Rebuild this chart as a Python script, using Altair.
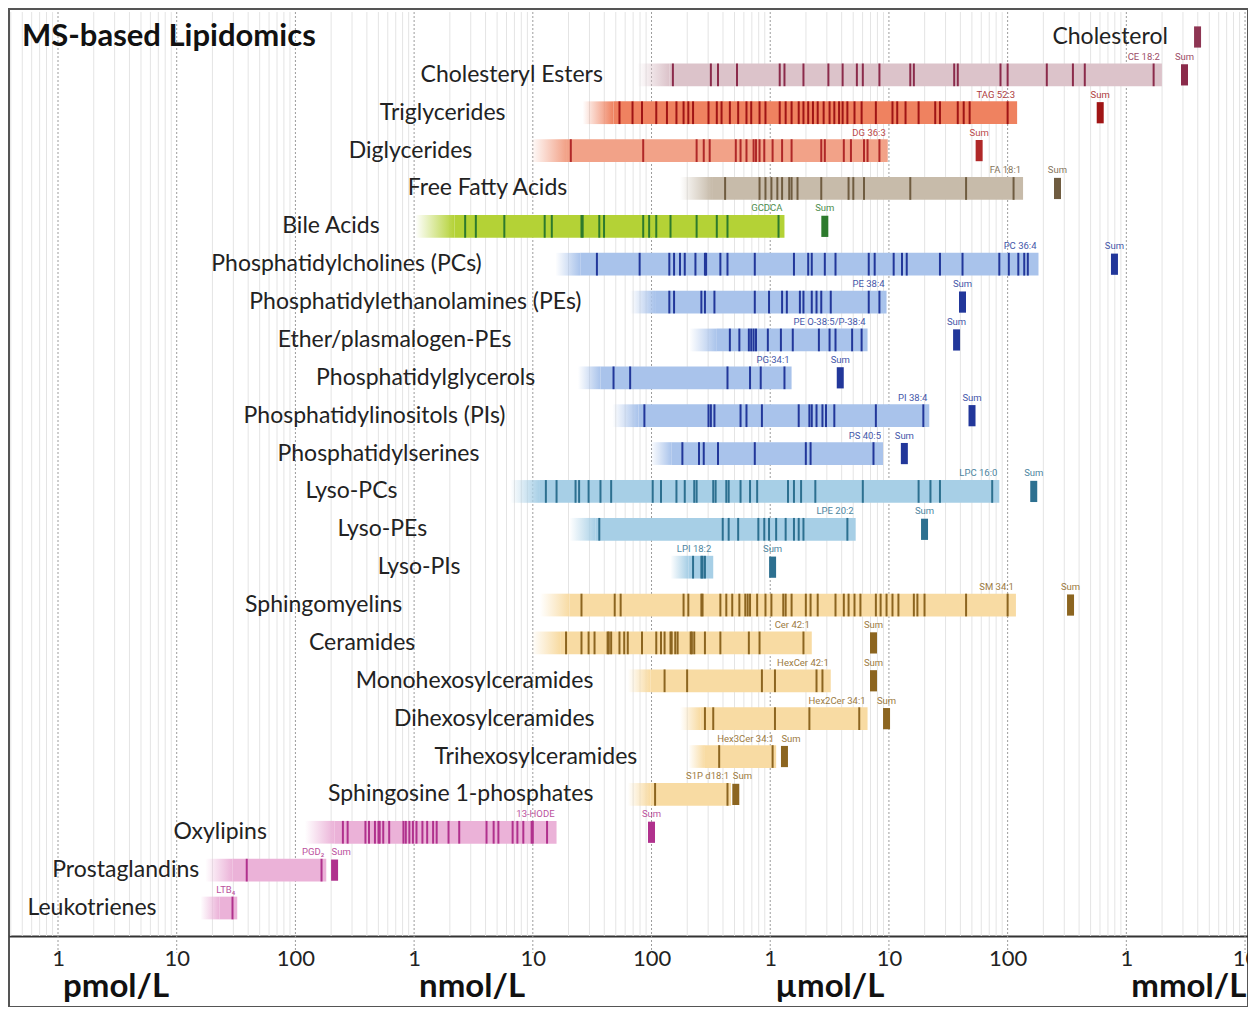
import altair as alt
import pandas as pd

# ---------------- data (log10 of concentration in pmol/L) ----------------
categories = ["Cholesterol", "Cholesteryl Esters", "Triglycerides", "Diglycerides",
              "Free Fatty Acids", "Bile Acids", "Phosphatidylcholines (PCs)",
              "Phosphatidylethanolamines (PEs)", "Ether/plasmalogen-PEs",
              "Phosphatidylglycerols", "Phosphatidylinositols (PIs)", "Phosphatidylserines",
              "Lyso-PCs", "Lyso-PEs", "Lyso-PIs", "Sphingomyelins", "Ceramides",
              "Monohexosylceramides", "Dihexosylceramides", "Trihexosylceramides",
              "Sphingosine 1-phosphates", "Oxylipins", "Prostaglandins", "Leukotrienes"]
groups = ["chol", "ce", "tg", "dg", "ffa", "ba", "pl", "pl", "pl", "pl", "pl", "pl",
          "lyso", "lyso", "lyso", "sph", "sph", "sph", "sph", "sph", "sph", "oxy", "oxy", "oxy"]

fade_start = [None, 4.88, 4.42, 3.98, 5.24, 3.01, 4.19, 4.82, 5.32, 4.38, 4.67, 4.99,
              3.81, 4.31, 5.16, 4.06, 3.99, 4.80, 5.24, 5.31, 4.80, 2.08, 1.24, 1.20]
range_lo = [None, 5.15, 4.68, 4.28, 5.51, 3.34, 4.40, 5.03, 5.55, 4.57, 4.89, 5.17,
            4.06, 4.53, 5.31, 4.31, 4.23, 4.99, 5.41, 5.45, 4.99, 2.33, 1.47, 1.36]
range_hi = [None, 9.30, 8.08, 6.99, 8.13, 6.12, 8.26, 6.98, 6.82, 6.18, 7.34, 6.95,
            7.93, 6.72, 5.52, 8.07, 6.35, 6.51, 6.82, 6.05, 5.67, 4.20, 2.26, 1.51]
sum_total = [9.60, 9.49, 8.78, 7.76, 8.42, 6.46, 8.90, 7.62, 7.57, 6.59, 7.70, 7.13,
             8.22, 7.30, 6.02, 8.53, 6.87, 6.87, 6.98, 6.12, 5.71, 5.00, 2.33, None]
label_end = [9.35, 4.59, 3.77, 3.49, 4.29, 2.71, 3.57, 4.41, 3.82, 4.02, 3.77, 3.55,
             2.86, 3.11, 3.39, 2.90, 3.01, 4.51, 4.52, 4.88, 4.51, 1.76, 1.19, 0.83]
top_species = [None, "CE 18:2", "TAG 52:3", "DG 36:3", "FA 18:1", "GCDCA", "PC 36:4",
               "PE 38:4", "PE O-38:5/P-38:4", "PG 34:1", "PI 38:4", "PS 40:5",
               "LPC 16:0", "LPE 20:2", "LPI 18:2", "SM 34:1", "Cer 42:1", "HexCer 42:1",
               "Hex2Cer 34:1", "Hex3Cer 34:1", "S1P d18:1", "13-HODE", "PGD₂", "LTB₄"]

ce_ticks = [5.18, 5.50, 5.56, 5.72, 6.08, 6.12, 6.28, 6.49, 6.61, 6.73, 6.78, 6.92, 7.18,
            7.21, 7.55, 7.58, 7.94, 8.00, 8.33, 8.55, 8.65, 9.23]
tg_ticks = [4.73, 4.84, 4.92, 5.04, 5.13, 5.21, 5.27, 5.31, 5.35, 5.48, 5.55, 5.59, 5.66,
            5.73, 5.80, 5.84, 5.91, 5.96, 6.08, 6.13, 6.18, 6.24, 6.28, 6.32, 6.36, 6.40,
            6.45, 6.50, 6.54, 6.58, 6.61, 6.65, 6.71, 6.77, 6.89, 7.03, 7.07, 7.14, 7.25,
            7.39, 7.43, 7.58, 7.63, 7.68, 8.00]
dg_ticks = [4.32, 4.93, 5.38, 5.44, 5.49, 5.71, 5.75, 5.80, 5.86, 5.88, 5.91, 5.95, 6.02,
            6.10, 6.18, 6.43, 6.46, 6.62, 6.68, 6.79, 6.82, 6.92]
ffa_ticks = [5.62, 5.91, 5.96, 6.01, 6.06, 6.10, 6.16, 6.18, 6.23, 6.43, 6.66, 6.70, 6.79,
             7.18, 7.65, 8.05]
ba_ticks = [3.43, 3.52, 3.76, 4.10, 4.16, 4.41, 4.42, 4.56, 4.60, 4.93, 4.98, 5.04, 5.16,
            5.38, 5.55, 5.64, 6.07]
pc_ticks = [4.54, 4.90, 5.15, 5.19, 5.24, 5.28, 5.37, 5.45, 5.46, 5.58, 5.64, 5.87, 6.20,
            6.32, 6.35, 6.46, 6.55, 6.83, 6.88, 7.04, 7.11, 7.15, 7.43, 7.62, 7.93, 8.01,
            8.09, 8.14, 8.17]
pe_ticks = [5.15, 5.19, 5.42, 5.45, 5.53, 5.87, 5.99, 6.10, 6.14, 6.25, 6.28, 6.35, 6.39,
            6.43, 6.51, 6.83, 6.92]
epe_ticks = [5.66, 5.74, 5.82, 5.84, 5.86, 5.88, 5.98, 6.09, 6.19, 6.41, 6.50, 6.55, 6.69,
             6.77]
pg_ticks = [4.68, 4.82, 5.64, 5.83, 5.92, 6.12]
pi_ticks = [4.94, 5.48, 5.50, 5.53, 5.75, 5.80, 5.93, 6.24, 6.33, 6.35, 6.39, 6.44, 6.47,
            6.54, 6.89, 7.29]
ps_ticks = [5.26, 5.40, 5.44, 5.56, 5.87, 6.30, 6.34, 6.87]
lpc_ticks = [4.11, 4.20, 4.36, 4.39, 4.47, 4.57, 4.66, 5.01, 5.08, 5.21, 5.28, 5.36, 5.38,
             5.52, 5.54, 5.63, 5.65, 5.75, 5.83, 5.89, 6.15, 6.20, 6.26, 6.38, 6.78, 7.25,
             7.35, 7.43, 7.87]
lpe_ticks = [4.56, 5.60, 5.65, 5.73, 5.90, 5.95, 5.99, 6.05, 6.13, 6.20, 6.24, 6.28, 6.65]
lpi_ticks = [5.35, 5.42, 5.43, 5.45]
sm_ticks = [4.41, 4.69, 4.74, 5.27, 5.31, 5.42, 5.43, 5.58, 5.63, 5.68, 5.74, 5.79, 5.81,
            5.83, 5.89, 5.96, 6.01, 6.11, 6.13, 6.18, 6.30, 6.34, 6.40, 6.55, 6.62, 6.66,
            6.71, 6.76, 6.89, 6.93, 6.98, 7.03, 7.08, 7.21, 7.24, 7.30, 7.65, 8.00]
cer_ticks = [4.28, 4.41, 4.47, 4.52, 4.63, 4.64, 4.66, 4.73, 4.77, 4.80, 4.92, 5.04, 5.08,
             5.11, 5.16, 5.17, 5.20, 5.22, 5.33, 5.34, 5.36, 5.45, 5.58, 5.82, 5.91, 6.28]
hex1_ticks = [5.11, 5.30, 5.93, 6.04, 6.39, 6.44]
hex2_ticks = [5.45, 5.52, 6.04, 6.33, 6.75]
hex3_ticks = [5.57, 6.02]
s1p_ticks = [5.03, 5.64]
oxy_ticks = [2.40, 2.44, 2.59, 2.62, 2.67, 2.70, 2.71, 2.74, 2.79, 2.91, 2.93, 2.96, 2.99,
             3.02, 3.07, 3.11, 3.16, 3.19, 3.29, 3.38, 3.61, 3.67, 3.71, 3.83, 3.87, 3.92,
             3.99, 4.00, 4.12]
pgl_ticks = [1.59, 2.22]
lt_ticks = [1.47]

species_ticks = [[], ce_ticks, tg_ticks, dg_ticks, ffa_ticks, ba_ticks, pc_ticks, pe_ticks,
                 epe_ticks, pg_ticks, pi_ticks, ps_ticks, lpc_ticks, lpe_ticks, lpi_ticks,
                 sm_ticks, cer_ticks, hex1_ticks, hex2_ticks, hex3_ticks, s1p_ticks,
                 oxy_ticks, pgl_ticks, lt_ticks]

decade_labels = ["1", "10", "100"]
units = ["pmol/L", "nmol/L", "µmol/L", "mmol/L"]
unit_at = [0, 3, 6, 9]

# ---------------- styles ----------------
bar_colors = {"chol": "#dcc3ca", "ce": "#dcc3ca", "tg": "#ef8260", "dg": "#f2a288",
              "ffa": "#c7bbaa", "ba": "#b4d236", "pl": "#a9c3eb", "lyso": "#a7cfe6",
              "sph": "#f8dba3", "oxy": "#ebb2d8"}
tick_colors = {"chol": "#8e3553", "ce": "#8b2b4b", "tg": "#a01515", "dg": "#b02828",
               "ffa": "#6f5c40", "ba": "#2d7a2d", "pl": "#22379a", "lyso": "#2d7090",
               "sph": "#8c6520", "oxy": "#b0318d"}
SMALL_FONT = "Liberation Sans Narrow, Roboto, sans-serif"


def rgba0(hexc):
    h = hexc.lstrip("#")
    return "rgba(%d,%d,%d,0)" % (int(h[0:2], 16), int(h[2:4], 16), int(h[4:6], 16))


def conc(e):
    return None if e is None else 10 ** e


rows = []
for i, name in enumerate(categories):
    near = (sum_total[i] is not None and range_hi[i] is not None
            and sum_total[i] - range_hi[i] < 0.12)
    rows.append({
        "row": i, "name": name, "group": groups[i],
        "y0": i - 0.3, "y1": i + 0.3, "s0": i - 0.28, "s1": i + 0.28,
        "fade": conc(fade_start[i]), "lo": conc(range_lo[i]), "hi": conc(range_hi[i]),
        "sum": conc(sum_total[i]), "label": conc(label_end[i]),
        "top": top_species[i], "near": near,
        "tcol": tick_colors[groups[i]], "bcol": bar_colors[groups[i]],
    })
rows_df = pd.DataFrame(rows)

tick_rows = []
for i, ticks in enumerate(species_ticks):
    for t in ticks:
        tick_rows.append({"row": i, "y0": i - 0.3, "y1": i + 0.3, "v": 10 ** t,
                          "tcol": tick_colors[groups[i]]})
ticks_df = pd.DataFrame(tick_rows)

decades = pd.DataFrame({"v": [10.0 ** d for d in range(0, 11)]})
minor = pd.DataFrame({"v": [k * 10.0 ** d for d in range(-1, 11) for k in range(2, 10)
                            if 10 ** -0.41 < k * 10.0 ** d < 10 ** 10.02]})
units_df = pd.DataFrame({"u": units, "v": [10.0 ** e for e in unit_at]})

# ---------------- scales ----------------
xscale = alt.Scale(type="log", domain=[10 ** -0.4128, 10 ** 10.025], nice=False)
yscale = alt.Scale(domain=[-0.739, 25.614], reverse=True, nice=False, zero=False)
xaxis = alt.Axis(values=[10.0 ** d for d in range(0, 11)],
                 labelExpr="['1','10','100'][round(log(datum.value)/LN10) % 3]",
                 title=None, grid=False, ticks=False, domain=True, domainColor="#333333",
                 domainWidth=2, offset=-71, labelFont="Lato", labelFontSize=22,
                 labelColor="#222222", labelPadding=12, labelFlush=False, labelOverlap=False)


def X(field):
    return alt.X(field, type="quantitative", scale=xscale, axis=xaxis)


def Y(field):
    return alt.Y(field, type="quantitative", scale=yscale, axis=None)


minor_grid = alt.Chart(minor).mark_rule(color="#e4e4e4", strokeWidth=1).encode(
    x=X("v"), y=alt.value(3), y2=alt.value(927))
decade_grid = alt.Chart(decades).mark_rule(color="#9c9c9c", strokeWidth=1,
                                           strokeDash=[2, 2]).encode(
    x=X("v"), y=alt.value(3), y2=alt.value(944))

bars_df = rows_df.dropna(subset=["lo"])
fade_layers = []
for g in ["ce", "tg", "dg", "ffa", "ba", "pl", "lyso", "sph", "oxy"]:
    c = bar_colors[g]
    grad = alt.Gradient(gradient="linear",
                        stops=[alt.GradientStop(color=rgba0(c), offset=0),
                               alt.GradientStop(color=c, offset=1)],
                        x1=0, x2=1, y1=0, y2=0)
    fade_layers.append(
        alt.Chart(bars_df[bars_df["group"] == g]).mark_rect(color=grad).encode(
            x=X("fade"), x2="lo", y=Y("y0"), y2="y1"))

bars = alt.Chart(bars_df).mark_rect().encode(
    x=X("lo"), x2="hi", y=Y("y0"), y2="y1", color=alt.Color("bcol:N", scale=None))

tick_marks = alt.Chart(ticks_df).mark_rule(strokeWidth=2).encode(
    x=X("v"), y=Y("y0"), y2="y1", color=alt.Color("tcol:N", scale=None))

sums_df = rows_df.dropna(subset=["sum"])
sum_marks = alt.Chart(sums_df).mark_rule(strokeWidth=7, strokeCap="butt").encode(
    x=X("sum"), y=Y("s0"), y2="s1", color=alt.Color("tcol:N", scale=None))

cat_labels = alt.Chart(rows_df).mark_text(align="right", baseline="middle", font="Lato",
                                          fontSize=23, color="#222222").encode(
    x=X("label"), y=Y("row"), text="name:N")

top_df = rows_df.dropna(subset=["hi"])
top_labels = alt.Chart(top_df).mark_text(align="right", baseline="middle", dx=-2, dy=-18,
                                         font=SMALL_FONT, fontSize=9.5, opacity=0.85).encode(
    x=X("hi"), y=Y("row"), text="top:N", color=alt.Color("tcol:N", scale=None))

sum_label_df = sums_df[sums_df["group"] != "chol"]
sum_labels_c = alt.Chart(sum_label_df[~sum_label_df["near"]]).mark_text(
    align="center", baseline="middle", dy=-18, font=SMALL_FONT, fontSize=9.5,
    opacity=0.85, text="Sum").encode(
    x=X("sum"), y=Y("row"), color=alt.Color("tcol:N", scale=None))
sum_labels_l = alt.Chart(sum_label_df[sum_label_df["near"]]).mark_text(
    align="left", baseline="middle", dx=-3, dy=-18, font=SMALL_FONT, fontSize=9.5,
    opacity=0.85, text="Sum").encode(
    x=X("sum"), y=Y("row"), color=alt.Color("tcol:N", scale=None))

unit_labels = alt.Chart(units_df).mark_text(align="left", baseline="middle", dx=5,
                                            font="Lato", fontSize=33, fontWeight="bold",
                                            color="#111111").encode(
    x=X("v"), y=alt.value(978), text="u:N")

title = alt.Chart(pd.DataFrame({"t": ["MS-based Lipidomics"]})).mark_text(
    align="left", baseline="middle", font="Lato", fontSize=31, fontWeight="bold",
    color="#111111").encode(x=alt.value(13), y=alt.value(28), text="t:N")

chart = alt.layer(minor_grid, decade_grid, *fade_layers, bars, tick_marks, sum_marks,
                  cat_labels, top_labels, sum_labels_c, sum_labels_l, unit_labels,
                  title).properties(
    width=1239, height=998,
    autosize=alt.AutoSizeParams(type="none"),
    padding={"left": 1, "top": 1, "right": 0, "bottom": 0},
    background="white",
).configure_view(stroke="#555555", strokeWidth=2)

chart.save("out.html", embed_options={"renderer": "svg", "actions": False})
